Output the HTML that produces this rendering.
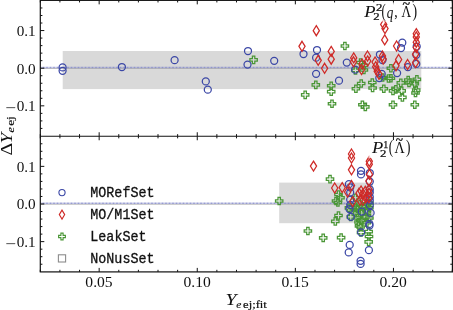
<!DOCTYPE html>
<html><head><meta charset="utf-8"><title>plot</title><style>html,body{margin:0;padding:0;background:#fff}body{width:453px;height:310px;overflow:hidden}</style></head><body>
<svg width="453" height="310" viewBox="0 0 453 310" style="display:block">
<rect width="453" height="310" fill="#fff"/>
<rect x="62.7" y="51.0" width="358.6" height="38.1" fill="#d9d9d9"/>
<rect x="279.2" y="182.6" width="93.8" height="40.6" fill="#d9d9d9"/>
<line x1="40.3" x2="452.4" y1="68.50" y2="68.50" stroke="#a8a8a8" stroke-width="0.7"/>
<line x1="40.3" x2="452.4" y1="67.50" y2="67.50" stroke="#7f85c8" stroke-width="1.5" stroke-dasharray="0.8 0.6"/>
<line x1="40.3" x2="452.4" y1="204.30" y2="204.30" stroke="#a8a8a8" stroke-width="0.7"/>
<line x1="40.3" x2="452.4" y1="203.30" y2="203.30" stroke="#7f85c8" stroke-width="1.5" stroke-dasharray="0.8 0.6"/>
<g>
<path d="M252.4 56.1L254.8 56.1L254.8 58.6L257.3 58.6L257.3 61.0L254.8 61.0L254.8 63.5L252.4 63.5L252.4 61.0L249.9 61.0L249.9 58.6L252.4 58.6Z" fill="none" stroke="#4a9636" stroke-width="1.25" stroke-linejoin="miter"/>
<path d="M304.0 91.1L306.4 91.1L306.4 93.6L308.9 93.6L308.9 96.0L306.4 96.0L306.4 98.5L304.0 98.5L304.0 96.0L301.5 96.0L301.5 93.6L304.0 93.6Z" fill="none" stroke="#4a9636" stroke-width="1.25" stroke-linejoin="miter"/>
<path d="M314.6 81.1L317.0 81.1L317.0 83.6L319.5 83.6L319.5 86.0L317.0 86.0L317.0 88.5L314.6 88.5L314.6 86.0L312.1 86.0L312.1 83.6L314.6 83.6Z" fill="none" stroke="#4a9636" stroke-width="1.25" stroke-linejoin="miter"/>
<path d="M343.7 42.3L346.1 42.3L346.1 44.8L348.6 44.8L348.6 47.2L346.1 47.2L346.1 49.7L343.7 49.7L343.7 47.2L341.2 47.2L341.2 44.8L343.7 44.8Z" fill="none" stroke="#4a9636" stroke-width="1.25" stroke-linejoin="miter"/>
<path d="M330.0 82.0L332.4 82.0L332.4 84.5L334.9 84.5L334.9 86.9L332.4 86.9L332.4 89.4L330.0 89.4L330.0 86.9L327.5 86.9L327.5 84.5L330.0 84.5Z" fill="none" stroke="#4a9636" stroke-width="1.25" stroke-linejoin="miter"/>
<path d="M330.0 87.9L332.4 87.9L332.4 90.4L334.9 90.4L334.9 92.8L332.4 92.8L332.4 95.3L330.0 95.3L330.0 92.8L327.5 92.8L327.5 90.4L330.0 90.4Z" fill="none" stroke="#4a9636" stroke-width="1.25" stroke-linejoin="miter"/>
<path d="M330.8 100.0L333.2 100.0L333.2 102.5L335.7 102.5L335.7 104.9L333.2 104.9L333.2 107.4L330.8 107.4L330.8 104.9L328.3 104.9L328.3 102.5L330.8 102.5Z" fill="none" stroke="#4a9636" stroke-width="1.25" stroke-linejoin="miter"/>
<path d="M359.4 58.8L361.8 58.8L361.8 61.3L364.3 61.3L364.3 63.7L361.8 63.7L361.8 66.2L359.4 66.2L359.4 63.7L356.9 63.7L356.9 61.3L359.4 61.3Z" fill="none" stroke="#4a9636" stroke-width="1.25" stroke-linejoin="miter"/>
<path d="M362.7 61.6L365.1 61.6L365.1 64.1L367.6 64.1L367.6 66.5L365.1 66.5L365.1 69.0L362.7 69.0L362.7 66.5L360.2 66.5L360.2 64.1L362.7 64.1Z" fill="none" stroke="#4a9636" stroke-width="1.25" stroke-linejoin="miter"/>
<path d="M362.7 66.3L365.1 66.3L365.1 68.8L367.6 68.8L367.6 71.2L365.1 71.2L365.1 73.7L362.7 73.7L362.7 71.2L360.2 71.2L360.2 68.8L362.7 68.8Z" fill="none" stroke="#4a9636" stroke-width="1.25" stroke-linejoin="miter"/>
<path d="M354.3 66.6L356.7 66.6L356.7 69.1L359.2 69.1L359.2 71.5L356.7 71.5L356.7 74.0L354.3 74.0L354.3 71.5L351.8 71.5L351.8 69.1L354.3 69.1Z" fill="none" stroke="#4a9636" stroke-width="1.25" stroke-linejoin="miter"/>
<path d="M389.7 64.5L392.1 64.5L392.1 67.0L394.6 67.0L394.6 69.4L392.1 69.4L392.1 71.9L389.7 71.9L389.7 69.4L387.2 69.4L387.2 67.0L389.7 67.0Z" fill="none" stroke="#4a9636" stroke-width="1.25" stroke-linejoin="miter"/>
<path d="M389.7 74.5L392.1 74.5L392.1 77.0L394.6 77.0L394.6 79.4L392.1 79.4L392.1 81.9L389.7 81.9L389.7 79.4L387.2 79.4L387.2 77.0L389.7 77.0Z" fill="none" stroke="#4a9636" stroke-width="1.25" stroke-linejoin="miter"/>
<path d="M381.4 73.8L383.8 73.8L383.8 76.3L386.3 76.3L386.3 78.7L383.8 78.7L383.8 81.2L381.4 81.2L381.4 78.7L378.9 78.7L378.9 76.3L381.4 76.3Z" fill="none" stroke="#4a9636" stroke-width="1.25" stroke-linejoin="miter"/>
<path d="M360.0 79.8L362.4 79.8L362.4 82.3L364.9 82.3L364.9 84.7L362.4 84.7L362.4 87.2L360.0 87.2L360.0 84.7L357.5 84.7L357.5 82.3L360.0 82.3Z" fill="none" stroke="#4a9636" stroke-width="1.25" stroke-linejoin="miter"/>
<path d="M371.1 78.8L373.5 78.8L373.5 81.3L376.0 81.3L376.0 83.7L373.5 83.7L373.5 86.2L371.1 86.2L371.1 83.7L368.6 83.7L368.6 81.3L371.1 81.3Z" fill="none" stroke="#4a9636" stroke-width="1.25" stroke-linejoin="miter"/>
<path d="M399.6 79.1L402.0 79.1L402.0 81.6L404.5 81.6L404.5 84.0L402.0 84.0L402.0 86.5L399.6 86.5L399.6 84.0L397.1 84.0L397.1 81.6L399.6 81.6Z" fill="none" stroke="#4a9636" stroke-width="1.25" stroke-linejoin="miter"/>
<path d="M354.7 85.0L357.1 85.0L357.1 87.5L359.6 87.5L359.6 89.9L357.1 89.9L357.1 92.4L354.7 92.4L354.7 89.9L352.2 89.9L352.2 87.5L354.7 87.5Z" fill="none" stroke="#4a9636" stroke-width="1.25" stroke-linejoin="miter"/>
<path d="M371.4 84.3L373.8 84.3L373.8 86.8L376.3 86.8L376.3 89.2L373.8 89.2L373.8 91.7L371.4 91.7L371.4 89.2L368.9 89.2L368.9 86.8L371.4 86.8Z" fill="none" stroke="#4a9636" stroke-width="1.25" stroke-linejoin="miter"/>
<path d="M382.6 85.0L385.0 85.0L385.0 87.5L387.5 87.5L387.5 89.9L385.0 89.9L385.0 92.4L382.6 92.4L382.6 89.9L380.1 89.9L380.1 87.5L382.6 87.5Z" fill="none" stroke="#4a9636" stroke-width="1.25" stroke-linejoin="miter"/>
<path d="M361.2 101.0L363.6 101.0L363.6 103.5L366.1 103.5L366.1 105.9L363.6 105.9L363.6 108.4L361.2 108.4L361.2 105.9L358.7 105.9L358.7 103.5L361.2 103.5Z" fill="none" stroke="#4a9636" stroke-width="1.25" stroke-linejoin="miter"/>
<path d="M364.1 103.1L366.5 103.1L366.5 105.6L369.0 105.6L369.0 108.0L366.5 108.0L366.5 110.5L364.1 110.5L364.1 108.0L361.6 108.0L361.6 105.6L364.1 105.6Z" fill="none" stroke="#4a9636" stroke-width="1.25" stroke-linejoin="miter"/>
<path d="M387.3 74.8L389.7 74.8L389.7 77.3L392.2 77.3L392.2 79.7L389.7 79.7L389.7 82.2L387.3 82.2L387.3 79.7L384.8 79.7L384.8 77.3L387.3 77.3Z" fill="none" stroke="#4a9636" stroke-width="1.25" stroke-linejoin="miter"/>
<path d="M407.0 76.3L409.4 76.3L409.4 78.8L411.9 78.8L411.9 81.2L409.4 81.2L409.4 83.7L407.0 83.7L407.0 81.2L404.5 81.2L404.5 78.8L407.0 78.8Z" fill="none" stroke="#4a9636" stroke-width="1.25" stroke-linejoin="miter"/>
<path d="M407.8 79.2L410.2 79.2L410.2 81.7L412.7 81.7L412.7 84.1L410.2 84.1L410.2 86.6L407.8 86.6L407.8 84.1L405.3 84.1L405.3 81.7L407.8 81.7Z" fill="none" stroke="#4a9636" stroke-width="1.25" stroke-linejoin="miter"/>
<path d="M415.7 75.6L418.1 75.6L418.1 78.1L420.6 78.1L420.6 80.5L418.1 80.5L418.1 83.0L415.7 83.0L415.7 80.5L413.2 80.5L413.2 78.1L415.7 78.1Z" fill="none" stroke="#4a9636" stroke-width="1.25" stroke-linejoin="miter"/>
<path d="M413.6 79.9L416.0 79.9L416.0 82.4L418.5 82.4L418.5 84.8L416.0 84.8L416.0 87.3L413.6 87.3L413.6 84.8L411.1 84.8L411.1 82.4L413.6 82.4Z" fill="none" stroke="#4a9636" stroke-width="1.25" stroke-linejoin="miter"/>
<path d="M391.8 87.2L394.2 87.2L394.2 89.7L396.7 89.7L396.7 92.1L394.2 92.1L394.2 94.6L391.8 94.6L391.8 92.1L389.3 92.1L389.3 89.7L391.8 89.7Z" fill="none" stroke="#4a9636" stroke-width="1.25" stroke-linejoin="miter"/>
<path d="M394.7 85.7L397.1 85.7L397.1 88.2L399.6 88.2L399.6 90.6L397.1 90.6L397.1 93.1L394.7 93.1L394.7 90.6L392.2 90.6L392.2 88.2L394.7 88.2Z" fill="none" stroke="#4a9636" stroke-width="1.25" stroke-linejoin="miter"/>
<path d="M400.5 87.2L402.9 87.2L402.9 89.7L405.4 89.7L405.4 92.1L402.9 92.1L402.9 94.6L400.5 94.6L400.5 92.1L398.0 92.1L398.0 89.7L400.5 89.7Z" fill="none" stroke="#4a9636" stroke-width="1.25" stroke-linejoin="miter"/>
<path d="M401.2 93.7L403.6 93.7L403.6 96.2L406.1 96.2L406.1 98.6L403.6 98.6L403.6 101.1L401.2 101.1L401.2 98.6L398.7 98.6L398.7 96.2L401.2 96.2Z" fill="none" stroke="#4a9636" stroke-width="1.25" stroke-linejoin="miter"/>
<path d="M415.0 86.4L417.4 86.4L417.4 88.9L419.9 88.9L419.9 91.3L417.4 91.3L417.4 93.8L415.0 93.8L415.0 91.3L412.5 91.3L412.5 88.9L415.0 88.9Z" fill="none" stroke="#4a9636" stroke-width="1.25" stroke-linejoin="miter"/>
<path d="M414.3 89.3L416.7 89.3L416.7 91.8L419.2 91.8L419.2 94.2L416.7 94.2L416.7 96.7L414.3 96.7L414.3 94.2L411.8 94.2L411.8 91.8L414.3 91.8Z" fill="none" stroke="#4a9636" stroke-width="1.25" stroke-linejoin="miter"/>
<path d="M391.8 101.0L394.2 101.0L394.2 103.5L396.7 103.5L396.7 105.9L394.2 105.9L394.2 108.4L391.8 108.4L391.8 105.9L389.3 105.9L389.3 103.5L391.8 103.5Z" fill="none" stroke="#4a9636" stroke-width="1.25" stroke-linejoin="miter"/>
<path d="M413.6 101.0L416.0 101.0L416.0 103.5L418.5 103.5L418.5 105.9L416.0 105.9L416.0 108.4L413.6 108.4L413.6 105.9L411.1 105.9L411.1 103.5L413.6 103.5Z" fill="none" stroke="#4a9636" stroke-width="1.25" stroke-linejoin="miter"/>
<circle cx="62.6" cy="67.4" r="3.5" fill="none" stroke="#3b47a6" stroke-width="1.25"/>
<circle cx="62.6" cy="70.8" r="3.5" fill="none" stroke="#3b47a6" stroke-width="1.25"/>
<circle cx="121.9" cy="67.0" r="3.5" fill="none" stroke="#3b47a6" stroke-width="1.25"/>
<circle cx="174.6" cy="60.2" r="3.5" fill="none" stroke="#3b47a6" stroke-width="1.25"/>
<circle cx="205.8" cy="81.4" r="3.5" fill="none" stroke="#3b47a6" stroke-width="1.25"/>
<circle cx="207.8" cy="89.7" r="3.5" fill="none" stroke="#3b47a6" stroke-width="1.25"/>
<circle cx="248.0" cy="51.0" r="3.5" fill="none" stroke="#3b47a6" stroke-width="1.25"/>
<circle cx="247.5" cy="64.6" r="3.5" fill="none" stroke="#3b47a6" stroke-width="1.25"/>
<circle cx="274.2" cy="60.8" r="3.5" fill="none" stroke="#3b47a6" stroke-width="1.25"/>
<circle cx="303.5" cy="54.0" r="3.5" fill="none" stroke="#3b47a6" stroke-width="1.25"/>
<circle cx="317.0" cy="50.0" r="3.5" fill="none" stroke="#3b47a6" stroke-width="1.25"/>
<circle cx="316.1" cy="57.7" r="3.5" fill="none" stroke="#3b47a6" stroke-width="1.25"/>
<circle cx="316.1" cy="73.8" r="3.5" fill="none" stroke="#3b47a6" stroke-width="1.25"/>
<circle cx="346.8" cy="62.6" r="3.5" fill="none" stroke="#3b47a6" stroke-width="1.25"/>
<circle cx="339.0" cy="80.7" r="3.5" fill="none" stroke="#3b47a6" stroke-width="1.25"/>
<circle cx="379.9" cy="54.5" r="3.5" fill="none" stroke="#3b47a6" stroke-width="1.25"/>
<circle cx="382.5" cy="60.0" r="3.5" fill="none" stroke="#3b47a6" stroke-width="1.25"/>
<circle cx="355.2" cy="69.7" r="3.5" fill="none" stroke="#3b47a6" stroke-width="1.25"/>
<circle cx="381.7" cy="73.9" r="3.5" fill="none" stroke="#3b47a6" stroke-width="1.25"/>
<circle cx="379.3" cy="78.0" r="3.5" fill="none" stroke="#3b47a6" stroke-width="1.25"/>
<circle cx="397.1" cy="73.1" r="3.5" fill="none" stroke="#3b47a6" stroke-width="1.25"/>
<circle cx="401.0" cy="48.0" r="3.5" fill="none" stroke="#3b47a6" stroke-width="1.25"/>
<circle cx="402.3" cy="42.7" r="3.5" fill="none" stroke="#3b47a6" stroke-width="1.25"/>
<circle cx="416.7" cy="46.5" r="3.5" fill="none" stroke="#3b47a6" stroke-width="1.25"/>
<circle cx="416.3" cy="54.8" r="3.5" fill="none" stroke="#3b47a6" stroke-width="1.25"/>
<circle cx="416.3" cy="63.9" r="3.5" fill="none" stroke="#3b47a6" stroke-width="1.25"/>
<circle cx="407.9" cy="67.1" r="3.5" fill="none" stroke="#3b47a6" stroke-width="1.25"/>
<path d="M302.0 41.3L305.1 46.3L302.0 51.3L298.9 46.3Z" fill="none" stroke="#cf2a27" stroke-width="1.25" stroke-linejoin="miter"/>
<path d="M316.3 25.7L319.4 30.7L316.3 35.7L313.2 30.7Z" fill="none" stroke="#cf2a27" stroke-width="1.25" stroke-linejoin="miter"/>
<path d="M318.2 55.3L321.3 60.3L318.2 65.3L315.1 60.3Z" fill="none" stroke="#cf2a27" stroke-width="1.25" stroke-linejoin="miter"/>
<path d="M324.6 63.3L327.7 68.3L324.6 73.3L321.5 68.3Z" fill="none" stroke="#cf2a27" stroke-width="1.25" stroke-linejoin="miter"/>
<path d="M331.2 46.4L334.3 51.4L331.2 56.4L328.1 51.4Z" fill="none" stroke="#cf2a27" stroke-width="1.25" stroke-linejoin="miter"/>
<path d="M331.2 54.2L334.3 59.2L331.2 64.2L328.1 59.2Z" fill="none" stroke="#cf2a27" stroke-width="1.25" stroke-linejoin="miter"/>
<path d="M383.7 19.4L386.8 24.4L383.7 29.4L380.6 24.4Z" fill="none" stroke="#cf2a27" stroke-width="1.25" stroke-linejoin="miter"/>
<path d="M385.0 23.6L388.1 28.6L385.0 33.6L381.9 28.6Z" fill="none" stroke="#cf2a27" stroke-width="1.25" stroke-linejoin="miter"/>
<path d="M384.7 34.9L387.8 39.9L384.7 44.9L381.6 39.9Z" fill="none" stroke="#cf2a27" stroke-width="1.25" stroke-linejoin="miter"/>
<path d="M396.6 41.0L399.7 46.0L396.6 51.0L393.5 46.0Z" fill="none" stroke="#cf2a27" stroke-width="1.25" stroke-linejoin="miter"/>
<path d="M353.7 52.9L356.8 57.9L353.7 62.9L350.6 57.9Z" fill="none" stroke="#cf2a27" stroke-width="1.25" stroke-linejoin="miter"/>
<path d="M353.5 56.8L356.6 61.8L353.5 66.8L350.4 61.8Z" fill="none" stroke="#cf2a27" stroke-width="1.25" stroke-linejoin="miter"/>
<path d="M367.5 51.0L370.6 56.0L367.5 61.0L364.4 56.0Z" fill="none" stroke="#cf2a27" stroke-width="1.25" stroke-linejoin="miter"/>
<path d="M367.7 56.0L370.8 61.0L367.7 66.0L364.6 61.0Z" fill="none" stroke="#cf2a27" stroke-width="1.25" stroke-linejoin="miter"/>
<path d="M375.1 57.0L378.2 62.0L375.1 67.0L372.0 62.0Z" fill="none" stroke="#cf2a27" stroke-width="1.25" stroke-linejoin="miter"/>
<path d="M375.7 61.7L378.8 66.7L375.7 71.7L372.6 66.7Z" fill="none" stroke="#cf2a27" stroke-width="1.25" stroke-linejoin="miter"/>
<path d="M377.2 66.3L380.3 71.3L377.2 76.3L374.1 71.3Z" fill="none" stroke="#cf2a27" stroke-width="1.25" stroke-linejoin="miter"/>
<path d="M379.0 69.3L382.1 74.3L379.0 79.3L375.9 74.3Z" fill="none" stroke="#cf2a27" stroke-width="1.25" stroke-linejoin="miter"/>
<path d="M382.5 51.0L385.6 56.0L382.5 61.0L379.4 56.0Z" fill="none" stroke="#cf2a27" stroke-width="1.25" stroke-linejoin="miter"/>
<path d="M383.2 54.0L386.3 59.0L383.2 64.0L380.1 59.0Z" fill="none" stroke="#cf2a27" stroke-width="1.25" stroke-linejoin="miter"/>
<path d="M398.6 54.5L401.7 59.5L398.6 64.5L395.5 59.5Z" fill="none" stroke="#cf2a27" stroke-width="1.25" stroke-linejoin="miter"/>
<path d="M396.0 60.8L399.1 65.8L396.0 70.8L392.9 65.8Z" fill="none" stroke="#cf2a27" stroke-width="1.25" stroke-linejoin="miter"/>
<path d="M416.3 28.7L419.4 33.7L416.3 38.7L413.2 33.7Z" fill="none" stroke="#cf2a27" stroke-width="1.25" stroke-linejoin="miter"/>
<path d="M416.3 31.9L419.4 36.9L416.3 41.9L413.2 36.9Z" fill="none" stroke="#cf2a27" stroke-width="1.25" stroke-linejoin="miter"/>
<path d="M416.3 37.2L419.4 42.2L416.3 47.2L413.2 42.2Z" fill="none" stroke="#cf2a27" stroke-width="1.25" stroke-linejoin="miter"/>
<path d="M416.3 42.5L419.4 47.5L416.3 52.5L413.2 47.5Z" fill="none" stroke="#cf2a27" stroke-width="1.25" stroke-linejoin="miter"/>
<path d="M415.6 49.2L418.7 54.2L415.6 59.2L412.5 54.2Z" fill="none" stroke="#cf2a27" stroke-width="1.25" stroke-linejoin="miter"/>
<path d="M415.6 57.6L418.7 62.6L415.6 67.6L412.5 62.6Z" fill="none" stroke="#cf2a27" stroke-width="1.25" stroke-linejoin="miter"/>
<path d="M407.6 59.5L410.7 64.5L407.6 69.5L404.5 64.5Z" fill="none" stroke="#cf2a27" stroke-width="1.25" stroke-linejoin="miter"/>
<path d="M362.0 59.0L365.1 64.0L362.0 69.0L358.9 64.0Z" fill="none" stroke="#cf2a27" stroke-width="1.25" stroke-linejoin="miter"/>
<path d="M361.5 64.5L364.6 69.5L361.5 74.5L358.4 69.5Z" fill="none" stroke="#cf2a27" stroke-width="1.25" stroke-linejoin="miter"/>
<path d="M278.0 197.3L280.4 197.3L280.4 199.8L282.9 199.8L282.9 202.2L280.4 202.2L280.4 204.7L278.0 204.7L278.0 202.2L275.5 202.2L275.5 199.8L278.0 199.8Z" fill="none" stroke="#4a9636" stroke-width="1.25" stroke-linejoin="miter"/>
<path d="M328.8 175.4L331.2 175.4L331.2 177.9L333.7 177.9L333.7 180.3L331.2 180.3L331.2 182.8L328.8 182.8L328.8 180.3L326.3 180.3L326.3 177.9L328.8 177.9Z" fill="none" stroke="#4a9636" stroke-width="1.25" stroke-linejoin="miter"/>
<path d="M337.3 190.8L339.7 190.8L339.7 193.3L342.2 193.3L342.2 195.7L339.7 195.7L339.7 198.2L337.3 198.2L337.3 195.7L334.8 195.7L334.8 193.3L337.3 193.3Z" fill="none" stroke="#4a9636" stroke-width="1.25" stroke-linejoin="miter"/>
<path d="M339.3 194.0L341.7 194.0L341.7 196.5L344.2 196.5L344.2 198.9L341.7 198.9L341.7 201.4L339.3 201.4L339.3 198.9L336.8 198.9L336.8 196.5L339.3 196.5Z" fill="none" stroke="#4a9636" stroke-width="1.25" stroke-linejoin="miter"/>
<path d="M334.8 197.3L337.2 197.3L337.2 199.8L339.7 199.8L339.7 202.2L337.2 202.2L337.2 204.7L334.8 204.7L334.8 202.2L332.3 202.2L332.3 199.8L334.8 199.8Z" fill="none" stroke="#4a9636" stroke-width="1.25" stroke-linejoin="miter"/>
<path d="M336.7 198.8L339.1 198.8L339.1 201.3L341.6 201.3L341.6 203.7L339.1 203.7L339.1 206.2L336.7 206.2L336.7 203.7L334.2 203.7L334.2 201.3L336.7 201.3Z" fill="none" stroke="#4a9636" stroke-width="1.25" stroke-linejoin="miter"/>
<path d="M354.1 194.0L356.5 194.0L356.5 196.5L359.0 196.5L359.0 198.9L356.5 198.9L356.5 201.4L354.1 201.4L354.1 198.9L351.6 198.9L351.6 196.5L354.1 196.5Z" fill="none" stroke="#4a9636" stroke-width="1.25" stroke-linejoin="miter"/>
<path d="M351.5 203.7L353.9 203.7L353.9 206.2L356.4 206.2L356.4 208.6L353.9 208.6L353.9 211.1L351.5 211.1L351.5 208.6L349.0 208.6L349.0 206.2L351.5 206.2Z" fill="none" stroke="#4a9636" stroke-width="1.25" stroke-linejoin="miter"/>
<path d="M347.7 204.1L350.1 204.1L350.1 206.6L352.6 206.6L352.6 209.0L350.1 209.0L350.1 211.5L347.7 211.5L347.7 209.0L345.2 209.0L345.2 206.6L347.7 206.6Z" fill="none" stroke="#4a9636" stroke-width="1.25" stroke-linejoin="miter"/>
<path d="M337.3 211.8L339.7 211.8L339.7 214.3L342.2 214.3L342.2 216.7L339.7 216.7L339.7 219.2L337.3 219.2L337.3 216.7L334.8 216.7L334.8 214.3L337.3 214.3Z" fill="none" stroke="#4a9636" stroke-width="1.25" stroke-linejoin="miter"/>
<path d="M334.1 217.6L336.5 217.6L336.5 220.1L339.0 220.1L339.0 222.5L336.5 222.5L336.5 225.0L334.1 225.0L334.1 222.5L331.6 222.5L331.6 220.1L334.1 220.1Z" fill="none" stroke="#4a9636" stroke-width="1.25" stroke-linejoin="miter"/>
<path d="M339.9 233.9L342.3 233.9L342.3 236.4L344.8 236.4L344.8 238.8L342.3 238.8L342.3 241.3L339.9 241.3L339.9 238.8L337.4 238.8L337.4 236.4L339.9 236.4Z" fill="none" stroke="#4a9636" stroke-width="1.25" stroke-linejoin="miter"/>
<path d="M322.0 234.2L324.4 234.2L324.4 236.7L326.9 236.7L326.9 239.1L324.4 239.1L324.4 241.6L322.0 241.6L322.0 239.1L319.5 239.1L319.5 236.7L322.0 236.7Z" fill="none" stroke="#4a9636" stroke-width="1.25" stroke-linejoin="miter"/>
<path d="M306.7 227.3L309.1 227.3L309.1 229.8L311.6 229.8L311.6 232.2L309.1 232.2L309.1 234.7L306.7 234.7L306.7 232.2L304.2 232.2L304.2 229.8L306.7 229.8Z" fill="none" stroke="#4a9636" stroke-width="1.25" stroke-linejoin="miter"/>
<path d="M349.6 213.1L352.0 213.1L352.0 215.6L354.5 215.6L354.5 218.0L352.0 218.0L352.0 220.5L349.6 220.5L349.6 218.0L347.1 218.0L347.1 215.6L349.6 215.6Z" fill="none" stroke="#4a9636" stroke-width="1.25" stroke-linejoin="miter"/>
<path d="M354.8 204.0L357.2 204.0L357.2 206.5L359.7 206.5L359.7 208.9L357.2 208.9L357.2 211.4L354.8 211.4L354.8 208.9L352.3 208.9L352.3 206.5L354.8 206.5Z" fill="none" stroke="#4a9636" stroke-width="1.25" stroke-linejoin="miter"/>
<path d="M359.8 228.6L362.2 228.6L362.2 231.1L364.7 231.1L364.7 233.5L362.2 233.5L362.2 236.0L359.8 236.0L359.8 233.5L357.3 233.5L357.3 231.1L359.8 231.1Z" fill="none" stroke="#4a9636" stroke-width="1.25" stroke-linejoin="miter"/>
<path d="M367.5 227.9L369.9 227.9L369.9 230.4L372.4 230.4L372.4 232.8L369.9 232.8L369.9 235.3L367.5 235.3L367.5 232.8L365.0 232.8L365.0 230.4L367.5 230.4Z" fill="none" stroke="#4a9636" stroke-width="1.25" stroke-linejoin="miter"/>
<path d="M367.8 232.8L370.2 232.8L370.2 235.3L372.7 235.3L372.7 237.7L370.2 237.7L370.2 240.2L367.8 240.2L367.8 237.7L365.3 237.7L365.3 235.3L367.8 235.3Z" fill="none" stroke="#4a9636" stroke-width="1.25" stroke-linejoin="miter"/>
<path d="M367.5 238.2L369.9 238.2L369.9 240.7L372.4 240.7L372.4 243.1L369.9 243.1L369.9 245.6L367.5 245.6L367.5 243.1L365.0 243.1L365.0 240.7L367.5 240.7Z" fill="none" stroke="#4a9636" stroke-width="1.25" stroke-linejoin="miter"/>
<path d="M357.8 222.1L360.2 222.1L360.2 224.6L362.7 224.6L362.7 227.0L360.2 227.0L360.2 229.5L357.8 229.5L357.8 227.0L355.3 227.0L355.3 224.6L357.8 224.6Z" fill="none" stroke="#4a9636" stroke-width="1.25" stroke-linejoin="miter"/>
<path d="M365.6 218.9L368.0 218.9L368.0 221.4L370.5 221.4L370.5 223.8L368.0 223.8L368.0 226.3L365.6 226.3L365.6 223.8L363.1 223.8L363.1 221.4L365.6 221.4Z" fill="none" stroke="#4a9636" stroke-width="1.25" stroke-linejoin="miter"/>
<path d="M360.4 216.9L362.8 216.9L362.8 219.4L365.3 219.4L365.3 221.8L362.8 221.8L362.8 224.3L360.4 224.3L360.4 221.8L357.9 221.8L357.9 219.4L360.4 219.4Z" fill="none" stroke="#4a9636" stroke-width="1.25" stroke-linejoin="miter"/>
<path d="M356.5 214.3L358.9 214.3L358.9 216.8L361.4 216.8L361.4 219.2L358.9 219.2L358.9 221.7L356.5 221.7L356.5 219.2L354.0 219.2L354.0 216.8L356.5 216.8Z" fill="none" stroke="#4a9636" stroke-width="1.25" stroke-linejoin="miter"/>
<path d="M364.3 213.1L366.7 213.1L366.7 215.6L369.2 215.6L369.2 218.0L366.7 218.0L366.7 220.5L364.3 220.5L364.3 218.0L361.8 218.0L361.8 215.6L364.3 215.6Z" fill="none" stroke="#4a9636" stroke-width="1.25" stroke-linejoin="miter"/>
<path d="M368.2 214.3L370.6 214.3L370.6 216.8L373.1 216.8L373.1 219.2L370.6 219.2L370.6 221.7L368.2 221.7L368.2 219.2L365.7 219.2L365.7 216.8L368.2 216.8Z" fill="none" stroke="#4a9636" stroke-width="1.25" stroke-linejoin="miter"/>
<path d="M360.4 209.2L362.8 209.2L362.8 211.7L365.3 211.7L365.3 214.1L362.8 214.1L362.8 216.6L360.4 216.6L360.4 214.1L357.9 214.1L357.9 211.7L360.4 211.7Z" fill="none" stroke="#4a9636" stroke-width="1.25" stroke-linejoin="miter"/>
<path d="M365.6 207.9L368.0 207.9L368.0 210.4L370.5 210.4L370.5 212.8L368.0 212.8L368.0 215.3L365.6 215.3L365.6 212.8L363.1 212.8L363.1 210.4L365.6 210.4Z" fill="none" stroke="#4a9636" stroke-width="1.25" stroke-linejoin="miter"/>
<path d="M356.5 205.3L358.9 205.3L358.9 207.8L361.4 207.8L361.4 210.2L358.9 210.2L358.9 212.7L356.5 212.7L356.5 210.2L354.0 210.2L354.0 207.8L356.5 207.8Z" fill="none" stroke="#4a9636" stroke-width="1.25" stroke-linejoin="miter"/>
<path d="M368.2 204.0L370.6 204.0L370.6 206.5L373.1 206.5L373.1 208.9L370.6 208.9L370.6 211.4L368.2 211.4L368.2 208.9L365.7 208.9L365.7 206.5L368.2 206.5Z" fill="none" stroke="#4a9636" stroke-width="1.25" stroke-linejoin="miter"/>
<path d="M361.7 202.8L364.1 202.8L364.1 205.3L366.6 205.3L366.6 207.7L364.1 207.7L364.1 210.2L361.7 210.2L361.7 207.7L359.2 207.7L359.2 205.3L361.7 205.3Z" fill="none" stroke="#4a9636" stroke-width="1.25" stroke-linejoin="miter"/>
<path d="M359.4 223.3L361.8 223.3L361.8 225.8L364.3 225.8L364.3 228.2L361.8 228.2L361.8 230.7L359.4 230.7L359.4 228.2L356.9 228.2L356.9 225.8L359.4 225.8Z" fill="none" stroke="#4a9636" stroke-width="1.25" stroke-linejoin="miter"/>
<path d="M355.8 209.3L358.2 209.3L358.2 211.8L360.7 211.8L360.7 214.2L358.2 214.2L358.2 216.7L355.8 216.7L355.8 214.2L353.3 214.2L353.3 211.8L355.8 211.8Z" fill="none" stroke="#4a9636" stroke-width="1.25" stroke-linejoin="miter"/>
<path d="M364.8 202.3L367.2 202.3L367.2 204.8L369.7 204.8L369.7 207.2L367.2 207.2L367.2 209.7L364.8 209.7L364.8 207.2L362.3 207.2L362.3 204.8L364.8 204.8Z" fill="none" stroke="#4a9636" stroke-width="1.25" stroke-linejoin="miter"/>
<path d="M358.8 200.3L361.2 200.3L361.2 202.8L363.7 202.8L363.7 205.2L361.2 205.2L361.2 207.7L358.8 207.7L358.8 205.2L356.3 205.2L356.3 202.8L358.8 202.8Z" fill="none" stroke="#4a9636" stroke-width="1.25" stroke-linejoin="miter"/>
<path d="M368.3 199.3L370.7 199.3L370.7 201.8L373.2 201.8L373.2 204.2L370.7 204.2L370.7 206.7L368.3 206.7L368.3 204.2L365.8 204.2L365.8 201.8L368.3 201.8Z" fill="none" stroke="#4a9636" stroke-width="1.25" stroke-linejoin="miter"/>
<path d="M357.3 218.3L359.7 218.3L359.7 220.8L362.2 220.8L362.2 223.2L359.7 223.2L359.7 225.7L357.3 225.7L357.3 223.2L354.8 223.2L354.8 220.8L357.3 220.8Z" fill="none" stroke="#4a9636" stroke-width="1.25" stroke-linejoin="miter"/>
<circle cx="361.0" cy="170.8" r="3.5" fill="none" stroke="#3b47a6" stroke-width="1.25"/>
<circle cx="361.0" cy="174.4" r="3.5" fill="none" stroke="#3b47a6" stroke-width="1.25"/>
<circle cx="369.8" cy="173.0" r="3.5" fill="none" stroke="#3b47a6" stroke-width="1.25"/>
<circle cx="369.8" cy="181.6" r="3.5" fill="none" stroke="#3b47a6" stroke-width="1.25"/>
<circle cx="369.8" cy="189.4" r="3.5" fill="none" stroke="#3b47a6" stroke-width="1.25"/>
<circle cx="369.8" cy="192.6" r="3.5" fill="none" stroke="#3b47a6" stroke-width="1.25"/>
<circle cx="369.8" cy="197.1" r="3.5" fill="none" stroke="#3b47a6" stroke-width="1.25"/>
<circle cx="369.8" cy="200.3" r="3.5" fill="none" stroke="#3b47a6" stroke-width="1.25"/>
<circle cx="348.9" cy="184.2" r="3.5" fill="none" stroke="#3b47a6" stroke-width="1.25"/>
<circle cx="350.2" cy="187.4" r="3.5" fill="none" stroke="#3b47a6" stroke-width="1.25"/>
<circle cx="350.2" cy="192.6" r="3.5" fill="none" stroke="#3b47a6" stroke-width="1.25"/>
<circle cx="350.2" cy="199.7" r="3.5" fill="none" stroke="#3b47a6" stroke-width="1.25"/>
<circle cx="350.2" cy="204.8" r="3.5" fill="none" stroke="#3b47a6" stroke-width="1.25"/>
<circle cx="349.5" cy="209.0" r="3.5" fill="none" stroke="#3b47a6" stroke-width="1.25"/>
<circle cx="350.8" cy="216.8" r="3.5" fill="none" stroke="#3b47a6" stroke-width="1.25"/>
<circle cx="361.1" cy="232.3" r="3.5" fill="none" stroke="#3b47a6" stroke-width="1.25"/>
<circle cx="361.8" cy="211.6" r="3.5" fill="none" stroke="#3b47a6" stroke-width="1.25"/>
<circle cx="369.4" cy="223.9" r="3.5" fill="none" stroke="#3b47a6" stroke-width="1.25"/>
<circle cx="370.6" cy="212.9" r="3.5" fill="none" stroke="#3b47a6" stroke-width="1.25"/>
<circle cx="349.7" cy="244.9" r="3.5" fill="none" stroke="#3b47a6" stroke-width="1.25"/>
<circle cx="348.7" cy="252.4" r="3.5" fill="none" stroke="#3b47a6" stroke-width="1.25"/>
<circle cx="368.9" cy="250.2" r="3.5" fill="none" stroke="#3b47a6" stroke-width="1.25"/>
<circle cx="360.6" cy="260.8" r="3.5" fill="none" stroke="#3b47a6" stroke-width="1.25"/>
<circle cx="360.6" cy="263.9" r="3.5" fill="none" stroke="#3b47a6" stroke-width="1.25"/>
<circle cx="369.5" cy="225.5" r="3.5" fill="none" stroke="#3b47a6" stroke-width="1.25"/>
<circle cx="369.8" cy="205.0" r="3.5" fill="none" stroke="#3b47a6" stroke-width="1.25"/>
<path d="M313.5 161.1L316.6 166.1L313.5 171.1L310.4 166.1Z" fill="none" stroke="#cf2a27" stroke-width="1.25" stroke-linejoin="miter"/>
<path d="M351.5 149.0L354.6 154.0L351.5 159.0L348.4 154.0Z" fill="none" stroke="#cf2a27" stroke-width="1.25" stroke-linejoin="miter"/>
<path d="M351.5 153.0L354.6 158.0L351.5 163.0L348.4 158.0Z" fill="none" stroke="#cf2a27" stroke-width="1.25" stroke-linejoin="miter"/>
<path d="M351.5 164.8L354.6 169.8L351.5 174.8L348.4 169.8Z" fill="none" stroke="#cf2a27" stroke-width="1.25" stroke-linejoin="miter"/>
<path d="M369.3 156.3L372.4 161.3L369.3 166.3L366.2 161.3Z" fill="none" stroke="#cf2a27" stroke-width="1.25" stroke-linejoin="miter"/>
<path d="M369.3 159.2L372.4 164.2L369.3 169.2L366.2 164.2Z" fill="none" stroke="#cf2a27" stroke-width="1.25" stroke-linejoin="miter"/>
<path d="M369.5 169.4L372.6 174.4L369.5 179.4L366.4 174.4Z" fill="none" stroke="#cf2a27" stroke-width="1.25" stroke-linejoin="miter"/>
<path d="M334.7 183.0L337.8 188.0L334.7 193.0L331.6 188.0Z" fill="none" stroke="#cf2a27" stroke-width="1.25" stroke-linejoin="miter"/>
<path d="M342.2 182.6L345.3 187.6L342.2 192.6L339.1 187.6Z" fill="none" stroke="#cf2a27" stroke-width="1.25" stroke-linejoin="miter"/>
<path d="M351.5 180.5L354.6 185.5L351.5 190.5L348.4 185.5Z" fill="none" stroke="#cf2a27" stroke-width="1.25" stroke-linejoin="miter"/>
<path d="M347.6 187.0L350.7 192.0L347.6 197.0L344.5 192.0Z" fill="none" stroke="#cf2a27" stroke-width="1.25" stroke-linejoin="miter"/>
<path d="M361.1 186.0L364.2 191.0L361.1 196.0L358.0 191.0Z" fill="none" stroke="#cf2a27" stroke-width="1.25" stroke-linejoin="miter"/>
<path d="M359.0 188.2L362.1 193.2L359.0 198.2L355.9 193.2Z" fill="none" stroke="#cf2a27" stroke-width="1.25" stroke-linejoin="miter"/>
<path d="M362.9 188.9L366.0 193.9L362.9 198.9L359.8 193.9Z" fill="none" stroke="#cf2a27" stroke-width="1.25" stroke-linejoin="miter"/>
<path d="M360.0 195.3L363.1 200.3L360.0 205.3L356.9 200.3Z" fill="none" stroke="#cf2a27" stroke-width="1.25" stroke-linejoin="miter"/>
<path d="M362.9 195.3L366.0 200.3L362.9 205.3L359.8 200.3Z" fill="none" stroke="#cf2a27" stroke-width="1.25" stroke-linejoin="miter"/>
<path d="M352.7 196.6L355.8 201.6L352.7 206.6L349.6 201.6Z" fill="none" stroke="#cf2a27" stroke-width="1.25" stroke-linejoin="miter"/>
<path d="M368.9 176.0L372.0 181.0L368.9 186.0L365.8 181.0Z" fill="none" stroke="#cf2a27" stroke-width="1.25" stroke-linejoin="miter"/>
<path d="M368.9 184.4L372.0 189.4L368.9 194.4L365.8 189.4Z" fill="none" stroke="#cf2a27" stroke-width="1.25" stroke-linejoin="miter"/>
<path d="M368.9 188.2L372.0 193.2L368.9 198.2L365.8 193.2Z" fill="none" stroke="#cf2a27" stroke-width="1.25" stroke-linejoin="miter"/>
<path d="M368.9 192.7L372.0 197.7L368.9 202.7L365.8 197.7Z" fill="none" stroke="#cf2a27" stroke-width="1.25" stroke-linejoin="miter"/>
<path d="M365.3 186.3L368.4 191.3L365.3 196.3L362.2 191.3Z" fill="none" stroke="#cf2a27" stroke-width="1.25" stroke-linejoin="miter"/>
<path d="M366.0 192.7L369.1 197.7L366.0 202.7L362.9 197.7Z" fill="none" stroke="#cf2a27" stroke-width="1.25" stroke-linejoin="miter"/>
</g>
<path d="M40.30 0.35v2.1M40.30 136.25v-2.1M40.30 136.25v2.1M40.30 271.90v-2.1M59.92 0.35v2.1M59.92 136.25v-2.1M59.92 136.25v2.1M59.92 271.90v-2.1M79.54 0.35v2.1M79.54 136.25v-2.1M79.54 136.25v2.1M79.54 271.90v-2.1M99.16 0.35v4M99.16 136.25v-4M99.16 136.25v4M99.16 271.90v-4M118.78 0.35v2.1M118.78 136.25v-2.1M118.78 136.25v2.1M118.78 271.90v-2.1M138.40 0.35v2.1M138.40 136.25v-2.1M138.40 136.25v2.1M138.40 271.90v-2.1M158.01 0.35v2.1M158.01 136.25v-2.1M158.01 136.25v2.1M158.01 271.90v-2.1M177.63 0.35v2.1M177.63 136.25v-2.1M177.63 136.25v2.1M177.63 271.90v-2.1M197.25 0.35v4M197.25 136.25v-4M197.25 136.25v4M197.25 271.90v-4M216.87 0.35v2.1M216.87 136.25v-2.1M216.87 136.25v2.1M216.87 271.90v-2.1M236.49 0.35v2.1M236.49 136.25v-2.1M236.49 136.25v2.1M236.49 271.90v-2.1M256.11 0.35v2.1M256.11 136.25v-2.1M256.11 136.25v2.1M256.11 271.90v-2.1M275.73 0.35v2.1M275.73 136.25v-2.1M275.73 136.25v2.1M275.73 271.90v-2.1M295.35 0.35v4M295.35 136.25v-4M295.35 136.25v4M295.35 271.90v-4M314.97 0.35v2.1M314.97 136.25v-2.1M314.97 136.25v2.1M314.97 271.90v-2.1M334.59 0.35v2.1M334.59 136.25v-2.1M334.59 136.25v2.1M334.59 271.90v-2.1M354.20 0.35v2.1M354.20 136.25v-2.1M354.20 136.25v2.1M354.20 271.90v-2.1M373.82 0.35v2.1M373.82 136.25v-2.1M373.82 136.25v2.1M373.82 271.90v-2.1M393.44 0.35v4M393.44 136.25v-4M393.44 136.25v4M393.44 271.90v-4M413.06 0.35v2.1M413.06 136.25v-2.1M413.06 136.25v2.1M413.06 271.90v-2.1M432.68 0.35v2.1M432.68 136.25v-2.1M432.68 136.25v2.1M432.68 271.90v-2.1M452.30 0.35v2.1M452.30 136.25v-2.1M452.30 136.25v2.1M452.30 271.90v-2.1M40.30 128.42h2.1M452.40 128.42h-2.1M40.30 120.90h2.1M452.40 120.90h-2.1M40.30 113.37h2.1M452.40 113.37h-2.1M40.30 105.84h4M452.40 105.84h-4M40.30 98.31h2.1M452.40 98.31h-2.1M40.30 90.78h2.1M452.40 90.78h-2.1M40.30 83.26h2.1M452.40 83.26h-2.1M40.30 75.73h2.1M452.40 75.73h-2.1M40.30 68.20h4M452.40 68.20h-4M40.30 60.67h2.1M452.40 60.67h-2.1M40.30 53.14h2.1M452.40 53.14h-2.1M40.30 45.62h2.1M452.40 45.62h-2.1M40.30 38.09h2.1M452.40 38.09h-2.1M40.30 30.56h4M452.40 30.56h-4M40.30 23.03h2.1M452.40 23.03h-2.1M40.30 15.50h2.1M452.40 15.50h-2.1M40.30 7.98h2.1M452.40 7.98h-2.1M40.30 264.22h2.1M452.40 264.22h-2.1M40.30 256.70h2.1M452.40 256.70h-2.1M40.30 249.17h2.1M452.40 249.17h-2.1M40.30 241.64h4M452.40 241.64h-4M40.30 234.11h2.1M452.40 234.11h-2.1M40.30 226.58h2.1M452.40 226.58h-2.1M40.30 219.06h2.1M452.40 219.06h-2.1M40.30 211.53h2.1M452.40 211.53h-2.1M40.30 204.00h4M452.40 204.00h-4M40.30 196.47h2.1M452.40 196.47h-2.1M40.30 188.94h2.1M452.40 188.94h-2.1M40.30 181.42h2.1M452.40 181.42h-2.1M40.30 173.89h2.1M452.40 173.89h-2.1M40.30 166.36h4M452.40 166.36h-4M40.30 158.83h2.1M452.40 158.83h-2.1M40.30 151.30h2.1M452.40 151.30h-2.1M40.30 143.78h2.1M452.40 143.78h-2.1" stroke="#111" stroke-width="1.0" fill="none"/>
<rect x="40.3" y="0.35" width="412.09999999999997" height="271.54999999999995" fill="none" stroke="#111" stroke-width="1.2"/>
<line x1="40.3" x2="452.4" y1="136.25" y2="136.25" stroke="#111" stroke-width="1.1"/>
<rect x="361.5" y="2.5" width="58" height="19" fill="#fff" fill-opacity="0.75"/>
<rect x="368.5" y="140" width="44.5" height="18" fill="#fff" fill-opacity="0.75"/>
<text x="99.0" y="287.4" font-size="15.6" font-family="Liberation Serif, serif" text-anchor="middle" fill="#111">0.05</text>
<text x="197.1" y="287.4" font-size="15.6" font-family="Liberation Serif, serif" text-anchor="middle" fill="#111">0.10</text>
<text x="295.1" y="287.4" font-size="15.6" font-family="Liberation Serif, serif" text-anchor="middle" fill="#111">0.15</text>
<text x="393.2" y="287.4" font-size="15.6" font-family="Liberation Serif, serif" text-anchor="middle" fill="#111">0.20</text>
<text x="35.7" y="35.9" font-size="15.2" font-family="Liberation Serif, serif" text-anchor="end" fill="#111">0.1</text>
<text x="35.7" y="73.5" font-size="15.2" font-family="Liberation Serif, serif" text-anchor="end" fill="#111">0.0</text>
<text x="35.7" y="111.1" font-size="15.2" font-family="Liberation Serif, serif" text-anchor="end" fill="#111">0.1</text>
<text transform="translate(5.14 113.4) scale(1.26 1)" font-size="15.2" font-family="Liberation Serif, serif" fill="#111">−</text>
<text x="35.7" y="171.7" font-size="15.2" font-family="Liberation Serif, serif" text-anchor="end" fill="#111">0.1</text>
<text x="35.7" y="209.3" font-size="15.2" font-family="Liberation Serif, serif" text-anchor="end" fill="#111">0.0</text>
<text x="35.7" y="246.9" font-size="15.2" font-family="Liberation Serif, serif" text-anchor="end" fill="#111">0.1</text>
<text transform="translate(5.14 249.2) scale(1.26 1)" font-size="15.2" font-family="Liberation Serif, serif" fill="#111">−</text>
<text transform="translate(225.51 304.80) scale(1.161 1)" font-size="17.08" font-family="Liberation Serif, serif" font-style="italic" fill="#111" stroke="#111" stroke-width="0">Y</text>
<text transform="translate(236.15 307.89) scale(1.086 1)" font-size="10.63" font-family="Liberation Serif, serif" font-style="italic" fill="#111" stroke="#111" stroke-width="0.15">e</text>
<text transform="translate(243.10 307.65) scale(1.229 1)" font-size="10.22" font-family="Liberation Serif, serif" font-style="normal" fill="#111" stroke="#111" stroke-width="0.2">ej;fit</text>
<g transform="rotate(-90)">
<text transform="translate(-155.59 12.10) scale(1.223 1)" font-size="16.21" font-family="Liberation Serif, serif" font-style="normal" fill="#111" stroke="#111" stroke-width="0">Δ</text>
<text transform="translate(-143.47 12.10) scale(1.184 1)" font-size="16.46" font-family="Liberation Serif, serif" font-style="italic" fill="#111" stroke="#111" stroke-width="0">Y</text>
<text transform="translate(-132.56 13.80) scale(1.157 1)" font-size="10.42" font-family="Liberation Serif, serif" font-style="italic" fill="#111" stroke="#111" stroke-width="0.15">e</text>
<text transform="translate(-125.83 13.65) scale(1.246 1)" font-size="10.70" font-family="Liberation Serif, serif" font-style="normal" fill="#111" stroke="#111" stroke-width="0.2">ej</text>
</g>
<text transform="translate(364.30 17.00) scale(1.133 1)" font-size="16.31" font-family="Liberation Serif, serif" font-style="italic" fill="#111" stroke="#111" stroke-width="0">P</text>
<text transform="translate(375.89 11.30) scale(1.256 1)" font-size="10.15" font-family="Liberation Serif, serif" font-style="normal" fill="#111" stroke="#111" stroke-width="0.25">2</text>
<text transform="translate(373.19 20.40) scale(1.237 1)" font-size="10.31" font-family="Liberation Serif, serif" font-style="normal" fill="#111" stroke="#111" stroke-width="0.25">2</text>
<text transform="translate(381.39 17.10) scale(0.701 1)" font-size="18.11" font-family="Liberation Serif, serif" font-style="normal" fill="#111" stroke="#111" stroke-width="0">(</text>
<text transform="translate(386.81 17.74) scale(0.796 1)" font-size="16.47" font-family="Liberation Serif, serif" font-style="italic" fill="#111" stroke="#111" stroke-width="0">q</text>
<text transform="translate(394.14 17.32) scale(0.814 1)" font-size="17.20" font-family="Liberation Serif, serif" font-style="normal" fill="#111" stroke="#111" stroke-width="0">,</text>
<text transform="translate(401.57 17.00) scale(0.827 1)" font-size="16.06" font-family="Liberation Serif, serif" font-style="normal" fill="#111" stroke="#111" stroke-width="0">Λ</text>
<text transform="translate(402.58 8.87) scale(0.913 1)" font-size="15.29" font-family="Liberation Serif, serif" font-style="normal" fill="#111" stroke="#111" stroke-width="0.35">~</text>
<text transform="translate(412.58 17.10) scale(0.765 1)" font-size="18.11" font-family="Liberation Serif, serif" font-style="normal" fill="#111" stroke="#111" stroke-width="0">)</text>
<text transform="translate(372.00 152.80) scale(1.155 1)" font-size="16.00" font-family="Liberation Serif, serif" font-style="italic" fill="#111" stroke="#111" stroke-width="0">P</text>
<text transform="translate(383.30 147.60) scale(1.000 1)" font-size="10.00" font-family="Liberation Serif, serif" font-style="normal" fill="#111" stroke="#111" stroke-width="0.25">1</text>
<text transform="translate(380.09 156.50) scale(1.237 1)" font-size="10.31" font-family="Liberation Serif, serif" font-style="normal" fill="#111" stroke="#111" stroke-width="0.25">2</text>
<text transform="translate(388.78 153.27) scale(0.718 1)" font-size="18.22" font-family="Liberation Serif, serif" font-style="normal" fill="#111" stroke="#111" stroke-width="0">(</text>
<text transform="translate(394.56 152.80) scale(0.888 1)" font-size="15.76" font-family="Liberation Serif, serif" font-style="normal" fill="#111" stroke="#111" stroke-width="0">Λ</text>
<text transform="translate(395.80 144.87) scale(0.872 1)" font-size="15.29" font-family="Liberation Serif, serif" font-style="normal" fill="#111" stroke="#111" stroke-width="0.35">~</text>
<text transform="translate(406.10 153.27) scale(0.739 1)" font-size="18.22" font-family="Liberation Serif, serif" font-style="normal" fill="#111" stroke="#111" stroke-width="0">)</text>
<circle cx="62.0" cy="192.6" r="3.1" fill="none" stroke="#3b47a6" stroke-width="1.1"/>
<path d="M62.0 210.1L64.7 214.6L62.0 219.1L59.3 214.6Z" fill="none" stroke="#cf2a27" stroke-width="1.1" stroke-linejoin="miter"/>
<path d="M60.9 233.1L63.1 233.1L63.1 235.4L65.4 235.4L65.4 237.6L63.1 237.6L63.1 239.9L60.9 239.9L60.9 237.6L58.6 237.6L58.6 235.4L60.9 235.4Z" fill="none" stroke="#4a9636" stroke-width="1.1" stroke-linejoin="miter"/>
<rect x="58.4" y="254.8" width="7.2" height="7.2" fill="none" stroke="#8c8c8c" stroke-width="1.1"/>
<text x="90.3" y="197.3" font-size="14.3" font-family="Liberation Mono, monospace" fill="#111" stroke="#111" stroke-width="0.3" textLength="64.2" lengthAdjust="spacingAndGlyphs">MORefSet</text>
<text x="90.3" y="219.3" font-size="14.3" font-family="Liberation Mono, monospace" fill="#111" stroke="#111" stroke-width="0.3" textLength="64.2" lengthAdjust="spacingAndGlyphs">MO/M1Set</text>
<text x="90.3" y="241.2" font-size="14.3" font-family="Liberation Mono, monospace" fill="#111" stroke="#111" stroke-width="0.3" textLength="56.2" lengthAdjust="spacingAndGlyphs">LeakSet</text>
<text x="90.3" y="263.1" font-size="14.3" font-family="Liberation Mono, monospace" fill="#111" stroke="#111" stroke-width="0.3" textLength="64.2" lengthAdjust="spacingAndGlyphs">NoNusSet</text>
</svg>
</body></html>
